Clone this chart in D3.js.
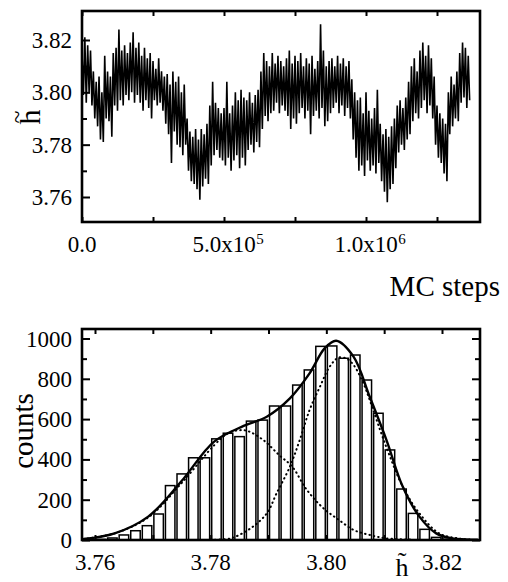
<!DOCTYPE html>
<html>
<head>
<meta charset="utf-8">
<script src="https://cdn.jsdelivr.net/npm/d3@7/dist/d3.min.js"></script>
<style>
  html, body { margin: 0; padding: 0; background: #fff; }
  svg { display: block; }
  text { font-family: "Liberation Serif", "Times New Roman", serif; fill: #000; }
</style>
</head>
<body>
<svg id="chart" width="508" height="582"></svg>
<script>
// ---------- Top panel: h~ versus Monte Carlo steps ----------
// The trace is stored as its upper and lower excursions, sampled every 10 000 steps;
// the low excursion of each sample sits half a step after the high one.
const traceStep = 10000;
const traceHigh = [
  3.815, 3.821, 3.818, 3.816, 3.808, 3.804, 3.806, 3.800, 3.814, 3.808,
  3.806, 3.815, 3.817, 3.824, 3.816, 3.818, 3.815, 3.819, 3.823, 3.817,
  3.819, 3.814, 3.817, 3.813, 3.815, 3.812, 3.809, 3.813, 3.808, 3.806,
  3.807, 3.803, 3.808, 3.804, 3.806, 3.800, 3.803, 3.790, 3.785, 3.783,
  3.786, 3.782, 3.786, 3.784, 3.788, 3.795, 3.804, 3.796, 3.794, 3.792,
  3.794, 3.804, 3.792, 3.795, 3.800, 3.797, 3.801, 3.798, 3.797, 3.800,
  3.796, 3.799, 3.801, 3.808, 3.815, 3.812, 3.810, 3.815, 3.811, 3.814,
  3.812, 3.810, 3.813, 3.816, 3.811, 3.814, 3.812, 3.815, 3.810, 3.813,
  3.811, 3.814, 3.809, 3.812, 3.826, 3.816, 3.810, 3.812, 3.813, 3.810,
  3.814, 3.811, 3.813, 3.810, 3.812, 3.805, 3.800, 3.797, 3.798, 3.792,
  3.800, 3.793, 3.790, 3.794, 3.801, 3.788, 3.784, 3.786, 3.783, 3.787,
  3.790, 3.795, 3.797, 3.794, 3.798, 3.804, 3.810, 3.813, 3.808, 3.816,
  3.819, 3.814, 3.818, 3.813, 3.806, 3.795, 3.792, 3.790, 3.788, 3.800,
  3.806, 3.803, 3.808, 3.815, 3.819, 3.817, 3.814
];
const traceLow = [
  3.799, 3.796, 3.800, 3.795, 3.790, 3.787, 3.782, 3.781, 3.790, 3.789,
  3.783, 3.795, 3.793, 3.797, 3.795, 3.799, 3.797, 3.800, 3.796, 3.799,
  3.796, 3.793, 3.797, 3.794, 3.790, 3.797, 3.795, 3.796, 3.793, 3.788,
  3.784, 3.773, 3.785, 3.780, 3.779, 3.776, 3.780, 3.770, 3.766, 3.765,
  3.763, 3.759, 3.764, 3.767, 3.765, 3.772, 3.776, 3.778, 3.775, 3.774,
  3.772, 3.775, 3.770, 3.774, 3.776, 3.771, 3.775, 3.772, 3.778, 3.780,
  3.777, 3.781, 3.779, 3.786, 3.791, 3.789, 3.792, 3.793, 3.796, 3.792,
  3.795, 3.793, 3.791, 3.786, 3.790, 3.788, 3.792, 3.794, 3.790, 3.793,
  3.784, 3.791, 3.793, 3.790, 3.794, 3.787, 3.789, 3.792, 3.794, 3.796,
  3.792, 3.795, 3.791, 3.794, 3.790, 3.782, 3.775, 3.770, 3.772, 3.768,
  3.774, 3.770, 3.772, 3.769, 3.773, 3.766, 3.762, 3.758, 3.763, 3.765,
  3.771, 3.777, 3.780, 3.778, 3.782, 3.784, 3.789, 3.792, 3.790, 3.794,
  3.797, 3.792, 3.795, 3.790, 3.780, 3.775, 3.773, 3.769, 3.766, 3.784,
  3.787, 3.790, 3.789, 3.796, 3.798, 3.794, 3.797
];
const stepTickValues = [0, 250000, 500000, 750000, 1000000, 1250000];
const stepLabelValues = [0, 500000, 1000000];
const stepLabelMantissa = ["0.0", "5.0x10", "1.0x10"];
const stepLabelExponent = ["", "5", "6"];
const hTickValues = [3.76, 3.78, 3.80, 3.82];
const hMinorTickValues = [3.77, 3.79, 3.81];

// ---------- Bottom panel: histogram of h~ with a two-Gaussian fit ----------
const binWidth = 0.002;
const binCenters = [
  3.761, 3.763, 3.765, 3.767, 3.769, 3.771, 3.773, 3.775, 3.777, 3.779,
  3.781, 3.783, 3.785, 3.787, 3.789, 3.791, 3.793, 3.795, 3.797, 3.799,
  3.801, 3.803, 3.805, 3.807, 3.809, 3.811, 3.813, 3.815, 3.817, 3.819,
  3.821
];
const binCounts = [
  3, 10, 25, 46, 71, 129, 270, 328, 408, 408,
  502, 530, 513, 590, 595, 665, 665, 769, 844, 961,
  963, 902, 918, 794, 629, 447, 253, 132, 53, 13,
  4
];
// Total fit (solid)
const fitH = [3.758, 3.7634, 3.7692, 3.7749, 3.7806, 3.7857, 3.7897, 3.7937, 3.7971,
              3.7997, 3.8017, 3.8047, 3.8075, 3.8104, 3.8132, 3.8161, 3.8190, 3.8218, 3.8240, 3.8262];
const fitCounts = [5, 33, 116, 290, 488, 566, 612, 703, 827,
                   951, 989, 910, 711, 496, 265, 116, 33, 8, 3, 1];
// Low-h component (dotted)
const lowH = [3.758, 3.7634, 3.7692, 3.7749, 3.7806, 3.7830, 3.7850, 3.7865, 3.7891,
              3.7919, 3.7941, 3.7966, 3.7994, 3.8022, 3.8047, 3.8075, 3.8104, 3.8150];
const lowCounts = [5, 33, 112, 280, 470, 530, 545, 540, 496,
                   420, 364, 250, 160, 99, 50, 25, 8, 2];
// High-h component (dotted)
const highH = [3.7800, 3.7834, 3.7869, 3.7897, 3.7914, 3.7937, 3.7954, 3.7971, 3.7989, 3.8006,
               3.8021, 3.8035, 3.8047, 3.8064, 3.8075, 3.8093, 3.8110, 3.8132, 3.8161, 3.8195, 3.8228, 3.8250];
const highCounts = [2, 8, 58, 132, 232, 364, 496, 645, 761, 861,
                    905, 900, 869, 778, 695, 546, 414, 265, 132, 33, 8, 2];
const countTickValues = [0, 200, 400, 600, 800, 1000];
const countMinorTickValues = [100, 300, 500, 700, 900];
const hBinTickValues = [3.76, 3.77, 3.78, 3.79, 3.80, 3.81, 3.82];
const hBinLabelValues = [3.76, 3.78, 3.80, 3.82];

const svg = d3.select("#chart");

// ===== Top panel =====
const traceBox = { left: 82, right: 480, top: 11, bottom: 222 };
const xSteps = d3.scaleLinear().domain([0, 1000000]).range([82, 366]);
const yH = d3.scaleLinear().domain([3.76, 3.82]).range([197, 40]);

const tracePts = [];
traceHigh.forEach((v, i) => {
  tracePts.push([i * traceStep, v]);
  tracePts.push([i * traceStep + traceStep / 2, traceLow[i]]);
});
svg.append("path")
  .attr("d", d3.line().x(d => xSteps(d[0])).y(d => yH(d[1]))(tracePts))
  .attr("fill", "none").attr("stroke", "#000").attr("stroke-width", 1.6)
  .attr("stroke-linejoin", "miter");

function styleTicks(g, w) {
  g.select(".domain").remove();
  g.selectAll(".tick line").attr("stroke", "#000").attr("stroke-width", w);
  g.selectAll(".tick text").remove();
}
// inward ticks
svg.append("g").attr("transform", `translate(${traceBox.left},0)`)
  .call(d3.axisLeft(yH).tickValues(hTickValues).tickSize(-8)).call(g => styleTicks(g, 2));
svg.append("g").attr("transform", `translate(${traceBox.left},0)`)
  .call(d3.axisLeft(yH).tickValues(hMinorTickValues).tickSize(-5)).call(g => styleTicks(g, 2));
svg.append("g").attr("transform", `translate(0,${traceBox.bottom})`)
  .call(d3.axisBottom(xSteps).tickValues(stepTickValues).tickSize(-5)).call(g => styleTicks(g, 2));
svg.append("g").attr("transform", `translate(0,${traceBox.top})`)
  .call(d3.axisTop(xSteps).tickValues(stepTickValues).tickSize(-5)).call(g => styleTicks(g, 2));

svg.append("rect")
  .attr("x", traceBox.left).attr("y", traceBox.top)
  .attr("width", traceBox.right - traceBox.left).attr("height", traceBox.bottom - traceBox.top)
  .attr("fill", "none").attr("stroke", "#000").attr("stroke-width", 2.6);

// y tick labels
svg.append("g").selectAll("text").data(hTickValues).join("text")
  .attr("x", 72).attr("y", d => yH(d) + 8)
  .attr("text-anchor", "end").attr("font-size", 23)
  .text(d => d.toFixed(2));

// x tick labels with powers of ten
stepLabelValues.forEach((v, i) => {
  const t = svg.append("text")
    .attr("x", xSteps(v)).attr("y", 252)
    .attr("text-anchor", "middle").attr("font-size", 23)
    .text(stepLabelMantissa[i]);
  if (stepLabelExponent[i]) {
    const w = t.node().getComputedTextLength();
    svg.append("text")
      .attr("x", xSteps(v) + w / 2 + 0.5).attr("y", 244)
      .attr("font-size", 15)
      .text(stepLabelExponent[i]);
  }
});

svg.append("text").attr("x", 500).attr("y", 296)
  .attr("text-anchor", "end").attr("font-size", 29)
  .text("MC steps");

// rotated h~ label (one text element: tilde set above the h)
const hLab = svg.append("text").attr("transform", "translate(40,117) rotate(-90)")
  .attr("text-anchor", "middle");
hLab.append("tspan").attr("x", 0).attr("y", 0).attr("font-size", 30).text("h");
hLab.append("tspan").attr("x", 0).attr("y", -15).attr("font-size", 24).text("~");

// ===== Bottom panel =====
const histBox = { left: 82, right: 480, top: 329, bottom: 540 };
const xBin = d3.scaleLinear().domain([3.76, 3.82]).range([95, 442]);
const yCount = d3.scaleLinear().domain([0, 1000]).range([540, 338.5]);

svg.append("g").selectAll("rect").data(binCenters).join("rect")
  .attr("x", d => xBin(d - binWidth * 0.41))
  .attr("width", d => xBin(d + binWidth * 0.41) - xBin(d - binWidth * 0.41))
  .attr("y", (d, i) => yCount(binCounts[i]))
  .attr("height", (d, i) => yCount(0) - yCount(binCounts[i]))
  .attr("fill", "#fff").attr("stroke", "#000").attr("stroke-width", 1.5);

const curve = d3.line().x(d => xBin(d[0])).y(d => yCount(d[1])).curve(d3.curveCatmullRom);
svg.append("path")
  .attr("d", curve(lowH.map((h, i) => [h, lowCounts[i]])))
  .attr("fill", "none").attr("stroke", "#000").attr("stroke-width", 2)
  .attr("stroke-dasharray", "0.5 4").attr("stroke-linecap", "round");
svg.append("path")
  .attr("d", curve(highH.map((h, i) => [h, highCounts[i]])))
  .attr("fill", "none").attr("stroke", "#000").attr("stroke-width", 2)
  .attr("stroke-dasharray", "0.5 4").attr("stroke-linecap", "round");
svg.append("path")
  .attr("d", curve(fitH.map((h, i) => [h, fitCounts[i]])))
  .attr("fill", "none").attr("stroke", "#000").attr("stroke-width", 2.4);

svg.append("g").attr("transform", `translate(${histBox.left},0)`)
  .call(d3.axisLeft(yCount).tickValues(countTickValues).tickSize(-8)).call(g => styleTicks(g, 2));
svg.append("g").attr("transform", `translate(${histBox.left},0)`)
  .call(d3.axisLeft(yCount).tickValues(countMinorTickValues).tickSize(-5)).call(g => styleTicks(g, 2));
svg.append("g").attr("transform", `translate(${histBox.right},0)`)
  .call(d3.axisRight(yCount).tickValues(countTickValues).tickSize(-8)).call(g => styleTicks(g, 2));
svg.append("g").attr("transform", `translate(${histBox.right},0)`)
  .call(d3.axisRight(yCount).tickValues(countMinorTickValues).tickSize(-5)).call(g => styleTicks(g, 2));
svg.append("g").attr("transform", `translate(0,${histBox.top})`)
  .call(d3.axisTop(xBin).tickValues(hBinTickValues).tickSize(-5)).call(g => styleTicks(g, 2));
svg.append("g").attr("transform", `translate(0,${histBox.bottom})`)
  .call(d3.axisBottom(xBin).tickValues(hBinTickValues).tickSize(-5)).call(g => styleTicks(g, 2));

svg.append("rect")
  .attr("x", histBox.left).attr("y", histBox.top)
  .attr("width", histBox.right - histBox.left).attr("height", histBox.bottom - histBox.top)
  .attr("fill", "none").attr("stroke", "#000").attr("stroke-width", 2.6);

svg.append("g").selectAll("text").data(countTickValues).join("text")
  .attr("x", 72).attr("y", d => yCount(d) + 8)
  .attr("text-anchor", "end").attr("font-size", 23)
  .text(d => d);

svg.append("g").selectAll("text").data(hBinLabelValues).join("text")
  .attr("x", d => xBin(d)).attr("y", 570)
  .attr("text-anchor", "middle").attr("font-size", 23)
  .text(d => d.toFixed(2));

svg.append("text")
  .attr("transform", "translate(33,431) rotate(-90)")
  .attr("text-anchor", "middle").attr("font-size", 29)
  .text("counts");

// h~ axis title under the histogram (h with a combining tilde)
svg.append("text").attr("x", 402).attr("y", 576)
  .attr("text-anchor", "middle").attr("font-size", 26)
  .text("h\u0303");
</script>
</body>
</html>
